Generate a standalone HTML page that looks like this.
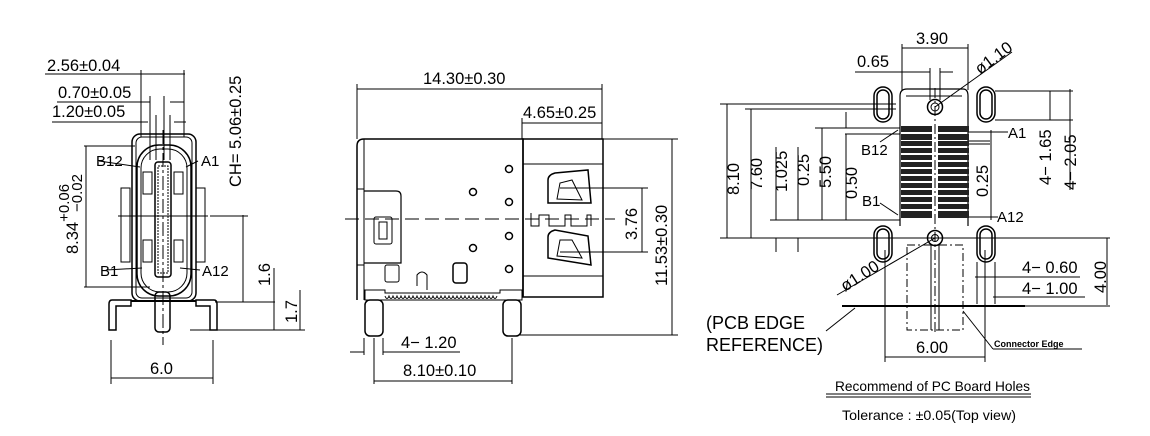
<!DOCTYPE html>
<html><head><meta charset="utf-8"><style>
html,body{margin:0;padding:0;background:#fff;}
svg{display:block;}
text{font-family:"Liberation Sans",sans-serif;fill:#000;}
</style></head><body>
<svg width="1150" height="436" viewBox="0 0 1150 436" xmlns="http://www.w3.org/2000/svg">
<g stroke="#000" fill="none" stroke-width="1">
<!-- ===== VIEW 1 ===== -->
<line x1="45" y1="74" x2="185" y2="74"/>
<line x1="141" y1="70" x2="141" y2="137"/><line x1="184" y1="70" x2="184" y2="137"/>
<line x1="57" y1="102" x2="150" y2="102"/><line x1="170" y1="102" x2="184" y2="102"/>
<line x1="52" y1="122" x2="148" y2="122"/><line x1="174" y1="122" x2="186" y2="122"/>
<line x1="150" y1="96" x2="150" y2="160"/><line x1="156" y1="115" x2="156" y2="160"/>
<line x1="164" y1="96" x2="164" y2="160"/><line x1="170" y1="115" x2="170" y2="160"/>
<rect x="132" y="134" width="64" height="167" rx="8" stroke-width="1.5"/>
<rect x="136" y="137" width="56" height="161" rx="6"/>
<rect x="137" y="145" width="54" height="151" rx="22" stroke-width="1.5"/>
<rect x="141" y="149" width="46" height="143" rx="19"/>
<rect x="155" y="162" width="16" height="115" rx="3" stroke-width="1.5"/>
<rect x="158" y="166" width="10" height="107" stroke-dasharray="2,1"/>
<rect x="143" y="172" width="9" height="22"/><rect x="174" y="172" width="9" height="22"/>
<rect x="143" y="240" width="9" height="22"/><rect x="174" y="240" width="9" height="22"/>
<rect x="121" y="188" width="9" height="74"/><rect x="196" y="188" width="9" height="74"/>
<line x1="118" y1="216" x2="208" y2="216"/><line x1="210" y1="216" x2="248" y2="216"/>
<line x1="163" y1="130" x2="163" y2="345" stroke-dasharray="14,3,3,3"/>
<line x1="86" y1="146" x2="86" y2="287"/><line x1="84" y1="146" x2="135" y2="146"/><line x1="84" y1="287" x2="150" y2="287"/>
<line x1="243" y1="215" x2="243" y2="302"/>
<path d="M131 300 L112 300 Q109 300 109 304 L109 330 L116 330 L116 306 L131 306 Z" stroke-width="1.5"/>
<path d="M196 300 L214 300 Q217 300 217 304 L217 330 L210 330 L210 306 L196 306 Z" stroke-width="1.5"/>
<rect x="155" y="292" width="15" height="40" rx="4" stroke-width="1.5"/>
<line x1="131" y1="301" x2="196" y2="301" stroke-width="2"/>
<line x1="215" y1="302" x2="275" y2="302"/><line x1="190" y1="330" x2="305" y2="330"/>
<line x1="274" y1="268" x2="274" y2="330"/><line x1="300" y1="302" x2="300" y2="330"/><line x1="300" y1="290" x2="300" y2="302"/>
<line x1="111" y1="340" x2="111" y2="384"/><line x1="213" y1="340" x2="213" y2="384"/>
<line x1="111" y1="378" x2="213" y2="378"/>
<line x1="99" y1="161" x2="140" y2="167"/><line x1="198" y1="161" x2="186" y2="167"/>
<line x1="106" y1="270" x2="142" y2="268"/><line x1="200" y1="270" x2="180" y2="268"/>

<!-- ===== VIEW 2 ===== -->
<line x1="357" y1="89" x2="602" y2="89"/>
<line x1="357" y1="84" x2="357" y2="139"/><line x1="602" y1="84" x2="602" y2="139"/>
<line x1="522" y1="123" x2="602" y2="123"/><line x1="522" y1="118" x2="522" y2="139"/>
<path d="M357 300 L357 146 Q357 139 364 139 L523 139 L523 296" stroke-width="1.5"/>
<line x1="364" y1="139" x2="364" y2="300"/>
<line x1="357" y1="189" x2="364" y2="189"/><line x1="357" y1="265" x2="364" y2="265"/>
<path d="M364 191 L396 191 Q401 191 401 196 L401 263 L364 263" stroke-width="1.2"/>
<rect x="374" y="217" width="18" height="27" rx="2"/><rect x="379" y="222" width="8" height="17"/>
<line x1="345" y1="219" x2="615" y2="219" stroke-dasharray="14,6"/>
<rect x="523" y="139" width="80" height="158" stroke-width="1.5"/>
<line x1="523" y1="164" x2="603" y2="164"/><line x1="523" y1="276" x2="603" y2="276"/>
<path d="M548 203 L548 180 Q548 175 555 173 L588 170 L591 203 Z" stroke-width="1.5"/><path d="M557 199 L560 183 L572 180 L582 200 Z"/>
<path d="M548 258 L548 237 Q548 232 555 230 L588 236 L591 265 Z" stroke-width="1.5"/><path d="M557 256 L560 240 L572 240 L582 258 Z"/>
<path d="M531 213 L531 226 L539 226 L539 215 L549 215 L549 226 L565 226 L565 215 L571 215 L571 226 L587 226 L587 215 L591 215 L591 226"/>
<line x1="560" y1="188" x2="648" y2="188"/><line x1="560" y1="252" x2="648" y2="252"/>
<line x1="642" y1="188" x2="642" y2="252"/>
<line x1="603" y1="139" x2="678" y2="139"/><line x1="520" y1="335" x2="678" y2="335"/>
<line x1="672" y1="139" x2="672" y2="335"/>
<circle cx="509" cy="169" r="3.5" stroke-width="1.5"/><circle cx="473" cy="192" r="3.5" stroke-width="1.5"/>
<circle cx="509" cy="202" r="3.5" stroke-width="1.5"/><circle cx="509" cy="236" r="3.5" stroke-width="1.5"/>
<circle cx="473" cy="248" r="3.5" stroke-width="1.5"/><circle cx="509" cy="269" r="3.5" stroke-width="1.5"/>
<rect x="385" y="265" width="14" height="17" rx="2"/><rect x="453" y="263" width="14" height="20" rx="3" stroke-width="1.5"/>
<path d="M417 286 L417 275 Q422 269 427 275 L427 290" />
<path d="M365 290 L385 290 L385 293 L500 293 L500 290 L522 290 L522 300 L365 300 Z"/>
<path d="M385 296 q2 5 4 0 q2 5 4 0 q2 5 4 0 q2 5 4 0 q2 5 4 0 q2 5 4 0 q2 5 4 0 q2 5 4 0 q2 5 4 0 q2 5 4 0 q2 5 4 0 q2 5 4 0 q2 5 4 0 q2 5 4 0 q2 5 4 0 q2 5 4 0 q2 5 4 0 q2 5 4 0 q2 5 4 0 q2 5 4 0 q2 5 4 0 q2 5 4 0 q2 5 4 0 q2 5 4 0 q2 5 4 0 q2 5 4 0 q2 5 4 0 q2 5 4 0"/>
<rect x="365" y="300" width="18" height="36" rx="5" stroke-width="1.5"/>
<rect x="503" y="300" width="18" height="36" rx="5" stroke-width="1.5"/>
<line x1="364" y1="338" x2="364" y2="355"/><line x1="374" y1="338" x2="374" y2="384"/>
<line x1="383" y1="338" x2="383" y2="355"/><line x1="512" y1="338" x2="512" y2="384"/>
<line x1="350" y1="352" x2="364" y2="352"/><line x1="383" y1="352" x2="460" y2="352"/>
<line x1="374" y1="381" x2="512" y2="381"/>

<!-- ===== VIEW 3 ===== -->
<line x1="902" y1="48" x2="968" y2="48"/>
<line x1="902" y1="44" x2="902" y2="90"/><line x1="968" y1="44" x2="968" y2="90"/>
<line x1="855" y1="72" x2="930" y2="72"/><line x1="940" y1="72" x2="953" y2="72"/>
<line x1="930" y1="68" x2="930" y2="100"/><line x1="940" y1="68" x2="940" y2="100"/>
<line x1="935" y1="107" x2="1012" y2="52"/>
<path d="M900 226 L900 96 Q900 89 907 89 L963 89 Q968 89 968 96 L968 226" stroke-width="1.2"/>
<line x1="906" y1="96" x2="962" y2="96"/>
<circle cx="935" cy="107" r="7.5" stroke-width="1.5"/><circle cx="935" cy="107" r="4"/>
<circle cx="935" cy="238" r="7.5" stroke-width="1.5"/><circle cx="935" cy="238" r="3.5"/>
<g stroke-width="1.5">
<rect x="874" y="87" width="18" height="35" rx="9"/><rect x="877" y="90" width="12" height="29" rx="6"/>
<rect x="977" y="87" width="18" height="35" rx="9"/><rect x="980" y="90" width="12" height="29" rx="6"/>
<rect x="874" y="226" width="18" height="36" rx="9"/><rect x="877" y="229" width="12" height="30" rx="6"/>
<rect x="977" y="226" width="18" height="36" rx="9"/><rect x="980" y="229" width="12" height="30" rx="6"/>
</g>
<line x1="935" y1="88" x2="935" y2="335" stroke-dasharray="10,3,2,3"/>
<line x1="931" y1="245" x2="931" y2="330"/><line x1="939" y1="245" x2="939" y2="330"/>
<rect x="907" y="245" width="56" height="85" stroke-dasharray="8,3,2,3"/>
<line x1="885" y1="250" x2="885" y2="362"/><line x1="985" y1="250" x2="985" y2="362"/>
<line x1="885" y1="357" x2="985" y2="357"/>
<line x1="842" y1="306" x2="1025" y2="306" stroke-width="2"/>
<line x1="720" y1="104" x2="896" y2="104"/><line x1="745" y1="109" x2="896" y2="109"/>
<line x1="815" y1="128" x2="900" y2="128"/><line x1="845" y1="134" x2="900" y2="134"/>
<line x1="770" y1="220" x2="900" y2="220"/><line x1="720" y1="238" x2="1110" y2="238"/>
<line x1="727" y1="104" x2="727" y2="238"/><line x1="751" y1="109" x2="751" y2="238"/>
<line x1="776" y1="147" x2="776" y2="220"/><line x1="798" y1="147" x2="798" y2="220"/>
<line x1="776" y1="238" x2="776" y2="252"/><line x1="798" y1="238" x2="798" y2="252"/>
<line x1="822" y1="128" x2="822" y2="220"/><line x1="846" y1="134" x2="846" y2="220"/>
<line x1="846" y1="112" x2="846" y2="128"/>
<line x1="995" y1="91" x2="1073" y2="91"/><line x1="995" y1="120" x2="1073" y2="120"/>
<line x1="1050" y1="91" x2="1050" y2="120"/><line x1="1070" y1="89" x2="1070" y2="190"/>
<line x1="968" y1="141" x2="990" y2="141"/><line x1="968" y1="144" x2="990" y2="144"/>
<line x1="991" y1="130" x2="991" y2="220"/>
<line x1="1107" y1="238" x2="1107" y2="305"/><line x1="1000" y1="306" x2="1110" y2="306"/>
<line x1="975" y1="277" x2="1080" y2="277"/><line x1="993" y1="297" x2="1085" y2="297"/>
<line x1="977" y1="262" x2="977" y2="304"/><line x1="995" y1="262" x2="995" y2="304"/>
<line x1="968" y1="132" x2="1008" y2="132"/><line x1="968" y1="217" x2="998" y2="217"/>
<line x1="898" y1="130" x2="880" y2="142"/><line x1="898" y1="215" x2="880" y2="203"/>
<line x1="935" y1="238" x2="837" y2="295"/>
<line x1="855" y1="308" x2="826" y2="331"/>
<line x1="963" y1="311" x2="993" y2="349"/><line x1="993" y1="349" x2="1082" y2="349"/>
<line x1="826" y1="394" x2="1031" y2="394"/><line x1="826" y1="397" x2="1031" y2="397"/>
</g>
<!-- pins -->
<g fill="#222">
<rect x="901" y="126" width="31" height="6"/><rect x="938" y="126" width="31" height="6"/>
<rect x="901" y="134" width="31" height="6"/><rect x="938" y="134" width="31" height="6"/>
<rect x="901" y="141" width="31" height="5"/><rect x="938" y="141" width="31" height="5"/>
<rect x="901" y="148" width="31" height="5"/><rect x="938" y="148" width="31" height="5"/>
<rect x="901" y="155" width="31" height="5"/><rect x="938" y="155" width="31" height="5"/>
<rect x="901" y="162" width="31" height="5"/><rect x="938" y="162" width="31" height="5"/>
<rect x="901" y="169" width="31" height="5"/><rect x="938" y="169" width="31" height="5"/>
<rect x="901" y="176" width="31" height="5"/><rect x="938" y="176" width="31" height="5"/>
<rect x="901" y="183" width="31" height="5"/><rect x="938" y="183" width="31" height="5"/>
<rect x="901" y="190" width="31" height="5"/><rect x="938" y="190" width="31" height="5"/>
<rect x="901" y="197" width="31" height="5"/><rect x="938" y="197" width="31" height="5"/>
<rect x="901" y="204" width="31" height="5"/><rect x="938" y="204" width="31" height="5"/>
<rect x="901" y="211" width="31" height="7"/><rect x="938" y="211" width="31" height="7"/>
</g>
<!-- TEXT -->
<g font-size="16.5">
<text x="47" y="71">2.56±0.04</text>
<text x="58" y="98">0.70±0.05</text>
<text x="52" y="117">1.20±0.05</text>
<text x="96" y="166" font-size="15">B12</text><text x="201" y="166" font-size="15">A1</text>
<text x="100" y="276" font-size="15">B1</text><text x="202" y="276" font-size="15">A12</text>
<text transform="translate(241,187) rotate(-90)">CH= 5.06±0.25</text>
<text transform="translate(78,254) rotate(-90)">8.34<tspan font-size="15" dy="-9">+0.06</tspan></text>
<text transform="translate(82,212) rotate(-90)" font-size="15">−0.02</text>
<text transform="translate(270,286) rotate(-90)">1.6</text>
<text transform="translate(297,323) rotate(-90)">1.7</text>
<text x="150" y="374">6.0</text>
<text x="423" y="84">14.30±0.30</text>
<text x="523" y="118">4.65±0.25</text>
<text transform="translate(637,240) rotate(-90)">3.76</text>
<text transform="translate(667,286) rotate(-90)">11.53±0.30</text>
<text x="401" y="348">4− 1.20</text>
<text x="403" y="376">8.10±0.10</text>
<text x="916" y="44">3.90</text>
<text x="857" y="67">0.65</text>
<text transform="translate(980,75) rotate(-37)">ø1.10</text>
<text x="861" y="155" font-size="15">B12</text><text x="1008" y="138" font-size="15">A1</text>
<text x="862" y="206" font-size="15">B1</text><text x="997" y="222" font-size="15">A12</text>
<text transform="translate(739,195) rotate(-90)">8.10</text>
<text transform="translate(762,190) rotate(-90)">7.60</text>
<text transform="translate(787,192) rotate(-90)">1.025</text>
<text transform="translate(809,186) rotate(-90)">0.25</text>
<text transform="translate(831,188) rotate(-90)">5.50</text>
<text transform="translate(857,199) rotate(-90)">0.50</text>
<text transform="translate(988,197) rotate(-90)">0.25</text>
<text transform="translate(1051,185) rotate(-90)">4− 1.65</text>
<text transform="translate(1076,190) rotate(-90)">4− 2.05</text>
<text transform="translate(845,292) rotate(-33)">ø1.00</text>
<text x="1022" y="273">4− 0.60</text>
<text x="1022" y="294">4− 1.00</text>
<text transform="translate(1106,293) rotate(-90)">4.00</text>
<text x="916" y="353">6.00</text>
<text x="706" y="329" font-size="18">(PCB  EDGE</text>
<text x="706" y="351" font-size="18">REFERENCE)</text>
<text x="994" y="347" font-size="9" font-weight="bold">Connector  Edge</text>
<text x="835" y="391" font-size="14" textLength="195" lengthAdjust="spacingAndGlyphs">Recommend  of  PC  Board  Holes</text>
<text x="842" y="420" font-size="14" textLength="174" lengthAdjust="spacingAndGlyphs">Tolerance  :  ±0.05(Top  view)</text>
</g>
</svg>
</body></html>
